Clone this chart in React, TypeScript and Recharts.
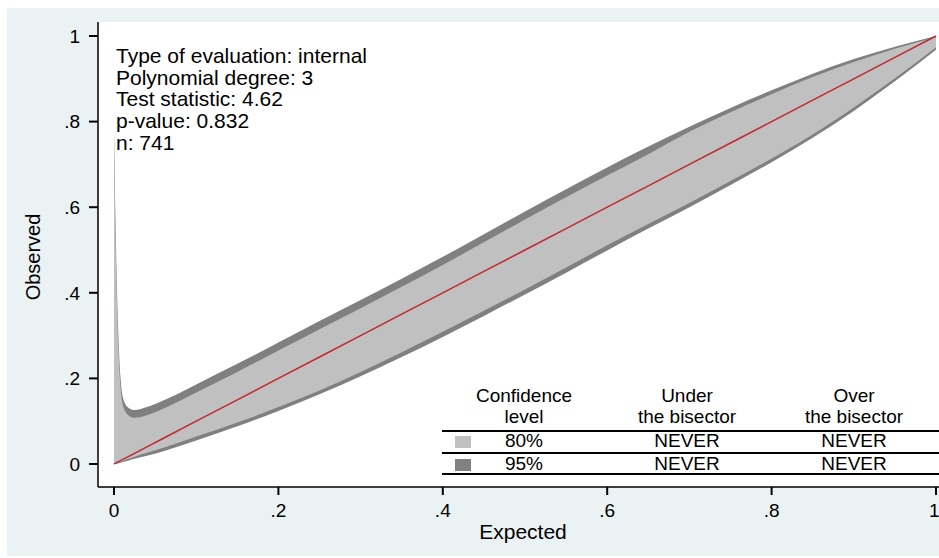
import { ComposedChart, Area, Line, XAxis, YAxis, CartesianGrid } from 'recharts'

// calibration belt
const expected = [0, 0.002, 0.005, 0.008, 0.012, 0.018, 0.025, 0.04, 0.062, 0.1, 0.15, 0.2, 0.25, 0.3, 0.35, 0.4, 0.45, 0.5, 0.55, 0.6, 0.65, 0.7, 0.75, 0.8, 0.85, 0.9, 0.95, 1]
const upper95 = [0.78, 0.55, 0.32, 0.2, 0.148, 0.131, 0.126, 0.133, 0.15, 0.186, 0.234, 0.284, 0.334, 0.383, 0.433, 0.484, 0.537, 0.59, 0.642, 0.693, 0.742, 0.788, 0.832, 0.873, 0.912, 0.946, 0.975, 1.0]
const upper80 = [0.76, 0.51, 0.29, 0.18, 0.13, 0.113, 0.108, 0.114, 0.131, 0.167, 0.215, 0.265, 0.315, 0.364, 0.414, 0.465, 0.518, 0.571, 0.623, 0.674, 0.724, 0.776, 0.822, 0.864, 0.904, 0.939, 0.97, 0.997]
const lower80 = [0, 0.001, 0.003, 0.005, 0.008, 0.012, 0.017, 0.026, 0.039, 0.064, 0.097, 0.133, 0.172, 0.215, 0.261, 0.309, 0.358, 0.408, 0.459, 0.511, 0.561, 0.61, 0.661, 0.714, 0.77, 0.833, 0.901, 0.974]
const lower95 = [0, 0, 0.001, 0.003, 0.005, 0.008, 0.012, 0.019, 0.031, 0.055, 0.088, 0.124, 0.163, 0.205, 0.25, 0.297, 0.346, 0.396, 0.447, 0.499, 0.55, 0.6, 0.652, 0.705, 0.762, 0.825, 0.894, 0.968]

const xTicks = [0, 0.2, 0.4, 0.6, 0.8, 1]
const yTicks = [0, 0.2, 0.4, 0.6, 0.8, 1]

const statLines = [
  'Type of evaluation: internal',
  'Polynomial degree: 3',
  'Test statistic: 4.62',
  'p-value: 0.832',
  'n: 741',
]
const levels = ['80%', '95%']
const underBisector = ['NEVER', 'NEVER']
const overBisector = ['NEVER', 'NEVER']

const data = expected.map((x, i) => ({
  x,
  belt95: [lower95[i], upper95[i]],
  belt80: [lower80[i], upper80[i]],
  bisector: x,
}))

const FONT = '"Liberation Sans", Arial, Helvetica, sans-serif'
const LIGHT = '#c0c0c0'
const DARK = '#808080'

const fmt = (v: number) => (v === 0 || v === 1 ? String(v) : String(v).replace(/^0/, ''))

const abs = (left: number, top: number, extra: React.CSSProperties = {}): React.CSSProperties => ({
  position: 'absolute',
  left,
  top,
  ...extra,
})

function LegendTable() {
  const cols = [524, 687, 854]
  const cell = (txt: string, cx: number, baseline: number, key: string) => (
    <div
      key={key}
      style={abs(cx - 80, baseline - 17, { width: 160, textAlign: 'center', fontSize: 19, lineHeight: '20px' })}
    >
      {txt}
    </div>
  )
  const rule = (y: number) => <div key={'r' + y} style={abs(442, y - 1, { width: 497, height: 2, background: '#000' })} />
  return (
    <>
      {cell('Confidence', cols[0], 403, 'h1a')}
      {cell('level', cols[0], 424, 'h1b')}
      {cell('Under', cols[1], 403, 'h2a')}
      {cell('the bisector', cols[1], 424, 'h2b')}
      {cell('Over', cols[2], 403, 'h3a')}
      {cell('the bisector', cols[2], 424, 'h3b')}
      {rule(431)}
      {levels.map((lv, i) => {
        const base = 448 + i * 23
        return [
          <div key={'sw' + i} style={abs(455, base - 12, { width: 16, height: 12, background: i === 0 ? LIGHT : DARK })} />,
          cell(lv, cols[0], base, 'l' + i),
          cell(underBisector[i], cols[1], base, 'u' + i),
          cell(overBisector[i], cols[2], base, 'o' + i),
        ]
      })}
      {rule(453)}
      {rule(474)}
    </>
  )
}

export default function App() {
  return (
    <div style={abs(0, 0, { width: 939, height: 558, background: '#fff', fontFamily: FONT, color: '#000', overflow: 'hidden' })}>
      <div style={abs(7, 8, { width: 932, height: 548, background: '#eaf2f3' })} />
      <div style={abs(7, 8)}>
        <ComposedChart width={932} height={548} data={data} margin={{ top: 14, right: 0, bottom: 29, left: 31 }}>
          <CartesianGrid horizontal={false} vertical={false} fill="#fff" />
          <XAxis
            dataKey="x"
            type="number"
            domain={[-16 / 822, 1 + 3 / 822]}
            ticks={xTicks}
            tickFormatter={fmt}
            height={40}
            allowDataOverflow
            axisLine={{ stroke: '#000', strokeWidth: 1.5 }}
            tickLine={{ stroke: '#000', strokeWidth: 2 }}
            tickSize={8}
            tickMargin={9}
            tick={{ fill: '#000', fontSize: 19, fontFamily: FONT }}
          />
          <YAxis
            type="number"
            domain={[-23 / 428, 1 + 14 / 428]}
            ticks={yTicks}
            tickFormatter={fmt}
            width={60}
            allowDataOverflow
            axisLine={{ stroke: '#000', strokeWidth: 1.5 }}
            tickLine={{ stroke: '#000', strokeWidth: 2 }}
            tickSize={9}
            tickMargin={9}
            tick={{ fill: '#000', fontSize: 19, fontFamily: FONT }}
          />
          <Area dataKey="belt95" type="monotoneX" fill={DARK} fillOpacity={1} stroke="none" isAnimationActive={false} />
          <Area dataKey="belt80" type="monotoneX" fill={LIGHT} fillOpacity={1} stroke="none" isAnimationActive={false} />
          <Line dataKey="bisector" type="linear" stroke="#c0282f" strokeWidth={1.5} dot={false} activeDot={false} isAnimationActive={false} />
        </ComposedChart>
      </div>

      <div style={abs(116, 45, { fontSize: 21, lineHeight: '21.7px', whiteSpace: 'nowrap' })}>
        {statLines.map((l) => (
          <div key={l}>{l}</div>
        ))}
      </div>

      <LegendTable />

      <div style={abs(423, 520, { width: 200, textAlign: 'center', fontSize: 21, lineHeight: '24px' })}>Expected</div>
      <div
        style={abs(33 - 100, 257 - 12, {
          width: 200,
          textAlign: 'center',
          fontSize: 20,
          lineHeight: '24px',
          transform: 'rotate(-90deg)',
        })}
      >
        Observed
      </div>
    </div>
  )
}
